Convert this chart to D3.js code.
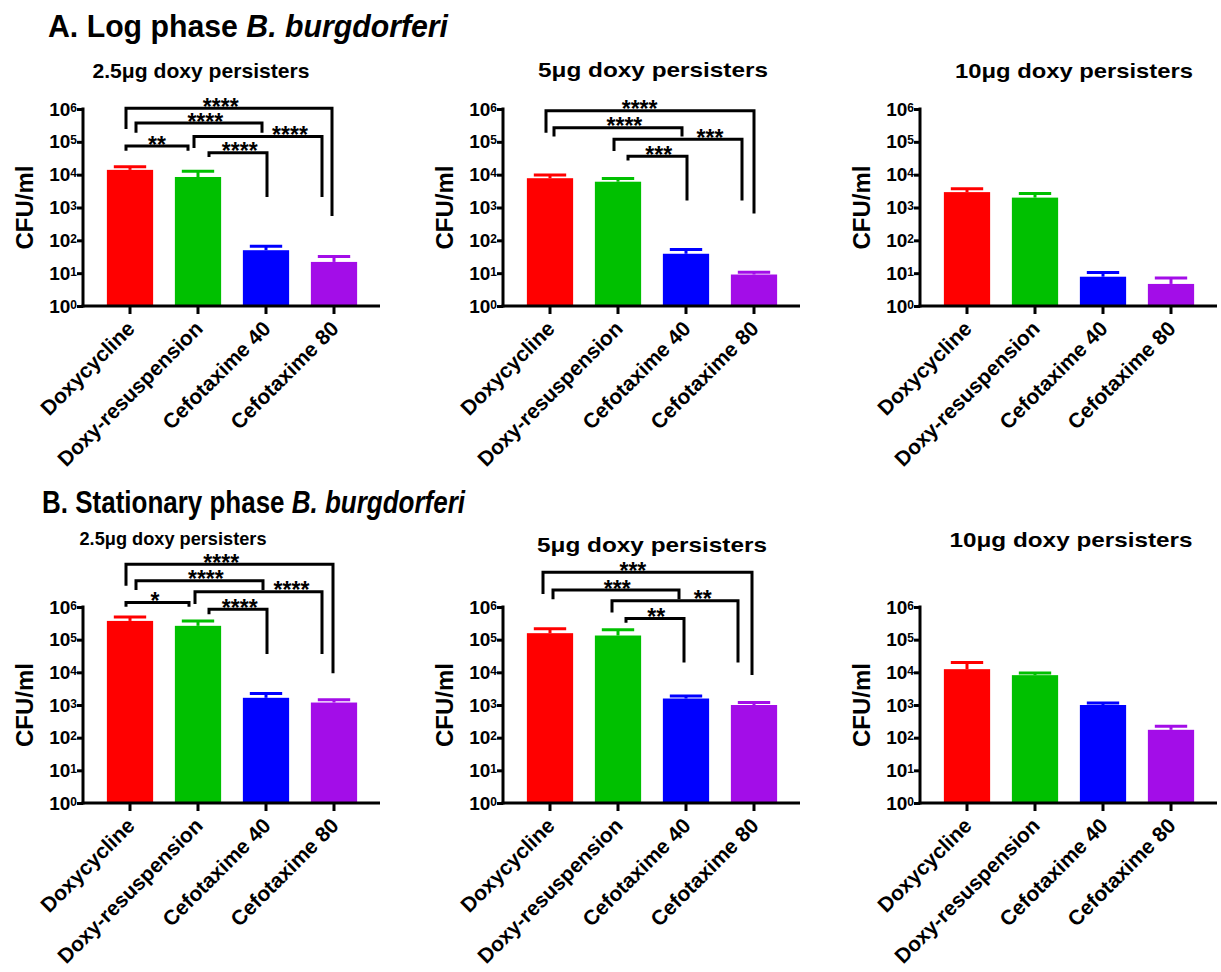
<!DOCTYPE html>
<html>
<head>
<meta charset="utf-8">
<script src="https://cdn.jsdelivr.net/npm/d3@7"></script>
<style>
  body { margin: 0; background: #fff; }
  svg text { font-family: "Liberation Sans", Arial, sans-serif; font-weight: bold; fill: #000; }
</style>
</head>
<body>
<svg id="chart" width="1221" height="972"></svg>
<script>
// categories and colours
const categories = ["Doxycycline", "Doxy-resuspension", "Cefotaxime 40", "Cefotaxime 80"];
const barColors = ["#ff0000", "#00c000", "#0000ff", "#a30de8"];
const yTicks = [1, 10, 100, 1000, 10000, 100000, 1000000];

// A. log phase, mean CFU/ml and SD (upper bar only)
const logMean25 = [14000, 8500, 50, 22];
const logSd25 = [3400, 4200, 16, 10];
const logMean5 = [7800, 6100, 39, 9.1];
const logSd5 = [1900, 1600, 14, 1.6];
const logMean10 = [2940, 2000, 7.8, 4.7];
const logSd10 = [760, 650, 2.6, 2.4];

// B. stationary phase
const statMean25 = [375000, 265000, 1660, 1190];
const statSd25 = [115000, 105000, 580, 250];
const statMean5 = [158000, 134000, 1580, 1000];
const statSd5 = [56000, 66000, 290, 190];
const statMean10 = [12500, 8200, 1000, 174];
const statSd10 = [7500, 1400, 150, 51];

// significance brackets: [from, to, label, lineLog, leftLegLog, rightLegLog, leftDx, rightDx, labelPos]
const logBr25 = [
  [0, 3, "****", 6.02, 5.39, 2.74, -4, -2, 0.46],
  [0, 2, "****", 5.57, 5.28, 5.28, 6, -4, 0.55],
  [1, 3, "****", 5.16, 4.81, 3.32, -4, -12, 0.75],
  [0, 1, "**", 4.87, 4.73, 4.73, -4, -10, 0.5],
  [1, 2, "****", 4.67, 4.54, 3.32, 11, 1, 0.53]
];
const logBr5 = [
  [0, 3, "****", 5.95, 5.28, 2.82, -4, 0, 0.45],
  [0, 2, "****", 5.43, 5.16, 5.16, 4, -4, 0.55],
  [1, 3, "***", 5.08, 4.72, 3.21, -4, -12, 0.75],
  [1, 2, "***", 4.56, 4.43, 3.21, 10, 1, 0.52]
];
const statBr25 = [
  [0, 3, "****", 7.31, 6.65, 3.97, -4, -1, 0.46],
  [0, 2, "****", 6.80, 6.52, 6.52, 6, -3, 0.55],
  [1, 3, "****", 6.47, 6.09, 4.56, -3, -12, 0.76],
  [0, 1, "*", 6.14, 6.01, 6.01, -4, -9, 0.46],
  [1, 2, "****", 5.93, 5.78, 4.56, 11, 1, 0.53]
];
const statBr5 = [
  [0, 3, "***", 7.06, 6.40, 3.92, -7, -2, 0.43],
  [0, 2, "***", 6.52, 6.24, 6.24, 3, -7, 0.51],
  [1, 3, "**", 6.19, 5.83, 4.30, -6, -16, 0.72],
  [1, 2, "**", 5.65, 5.52, 4.30, 8, -2, 0.52]
];

const svg = d3.select("#chart");

function drawPanel(ox, top, bottom, means, sds, brackets, title, tx, ty, tsize, tlen) {
  const g = svg.append("g").attr("transform", "translate(" + ox + ",0)");
  const x = d3.scaleBand().domain(categories).range([96, 368]).paddingInner(0.32).paddingOuter(0.16);
  const y = d3.scaleLog().domain([1, 1e6]).range([bottom, top]);
  const bw = x.bandwidth();

  g.append("text").attr("x", tx - tlen / 2).attr("y", ty)
    .attr("textLength", tlen).attr("lengthAdjust", "spacingAndGlyphs")
    .style("font-size", tsize + "px").text(title);

  // bars
  g.selectAll("rect.bar").data(means).join("rect")
    .attr("class", "bar")
    .attr("x", (d, i) => x(categories[i]))
    .attr("width", bw)
    .attr("y", d => y(d))
    .attr("height", d => bottom - y(d))
    .attr("fill", (d, i) => barColors[i]);

  // error bars (upper only)
  means.forEach((m, i) => {
    const cx = x(categories[i]) + bw / 2;
    const yt = y(m + sds[i]);
    g.append("line").attr("x1", cx).attr("x2", cx).attr("y1", y(m)).attr("y2", yt)
      .attr("stroke", barColors[i]).attr("stroke-width", 3);
    g.append("line").attr("x1", cx - bw * 0.35).attr("x2", cx + bw * 0.35).attr("y1", yt).attr("y2", yt)
      .attr("stroke", barColors[i]).attr("stroke-width", 3);
  });

  // y axis
  const ya = g.append("g").attr("transform", "translate(83,0)")
    .call(d3.axisLeft(y).tickValues(yTicks).tickSize(6).tickFormat(""));
  ya.select(".domain").remove();
  ya.selectAll(".tick line").attr("stroke-width", 3);
  g.append("line").attr("x1", 83).attr("x2", 83).attr("y1", top - 1.5).attr("y2", bottom + 1.5)
    .attr("stroke", "#000").attr("stroke-width", 3);
  yTicks.forEach(v => {
    const t = g.append("text").attr("x", 77).attr("y", y(v) + 6.5).attr("text-anchor", "end")
      .style("font-size", "19px");
    t.append("tspan").text("10");
    t.append("tspan").attr("dy", -4).style("font-size", "12px").text(String(Math.round(Math.log10(v))));
  });

  // x axis
  const xa = g.append("g").attr("transform", "translate(0," + bottom + ")")
    .call(d3.axisBottom(x).tickSize(8).tickFormat(""));
  xa.select(".domain").remove();
  xa.selectAll(".tick line").attr("stroke-width", 3);
  g.append("line").attr("x1", 81.5).attr("x2", 380).attr("y1", bottom).attr("y2", bottom)
    .attr("stroke", "#000").attr("stroke-width", 3);
  categories.forEach(c => {
    const px = x(c) + bw / 2 + 6, py = bottom + 24;
    g.append("text").attr("transform", "translate(" + px + "," + py + ") rotate(-45)")
      .attr("text-anchor", "end").style("font-size", "21px").text(c);
  });

  g.append("text")
    .attr("transform", "translate(33," + ((top + bottom) / 2) + ") rotate(-90)")
    .attr("text-anchor", "middle").style("font-size", "24px").text("CFU/ml");

  // brackets
  brackets.forEach(b => {
    const xl = x(categories[b[0]]) + bw / 2 + b[6];
    const xr = x(categories[b[1]]) + bw / 2 + b[7];
    const yl = y(Math.pow(10, b[3]));
    const path = d3.path();
    path.moveTo(xl, y(Math.pow(10, b[4])));
    path.lineTo(xl, yl);
    path.lineTo(xr, yl);
    path.lineTo(xr, y(Math.pow(10, b[5])));
    g.append("path").attr("d", path.toString()).attr("fill", "none")
      .attr("stroke", "#000").attr("stroke-width", 3);
    g.append("text").attr("x", xl + (xr - xl) * b[8]).attr("y", yl + 6.5)
      .attr("text-anchor", "middle").style("font-size", "23px").text(b[2]);
  });
}

function heading(x0, y0, w, first) {
  const t = svg.append("text").attr("x", x0).attr("y", y0).style("font-size", "32px")
    .attr("textLength", w).attr("lengthAdjust", "spacingAndGlyphs");
  t.append("tspan").text(first);
  t.append("tspan").style("font-style", "italic").text("B. burgdorferi");
}

heading(48, 37, 400, "A. Log phase ");
heading(42, 513, 423, "B. Stationary phase ");

drawPanel(0, 109, 306, logMean25, logSd25, logBr25, "2.5μg doxy persisters", 201, 78, 21, 217);
drawPanel(420, 109, 306, logMean5, logSd5, logBr5, "5μg doxy persisters", 233, 77, 21, 230);
drawPanel(837, 109, 306, logMean10, logSd10, [], "10μg doxy persisters", 237, 78, 21, 238);
drawPanel(0, 607, 803, statMean25, statSd25, statBr25, "2.5μg doxy persisters", 173, 545, 18, 187);
drawPanel(420, 607, 803, statMean5, statSd5, statBr5, "5μg doxy persisters", 232, 552, 21, 230);
drawPanel(837, 607, 803, statMean10, statSd10, [], "10μg doxy persisters", 234, 547, 21, 243);
</script>
</body>
</html>
